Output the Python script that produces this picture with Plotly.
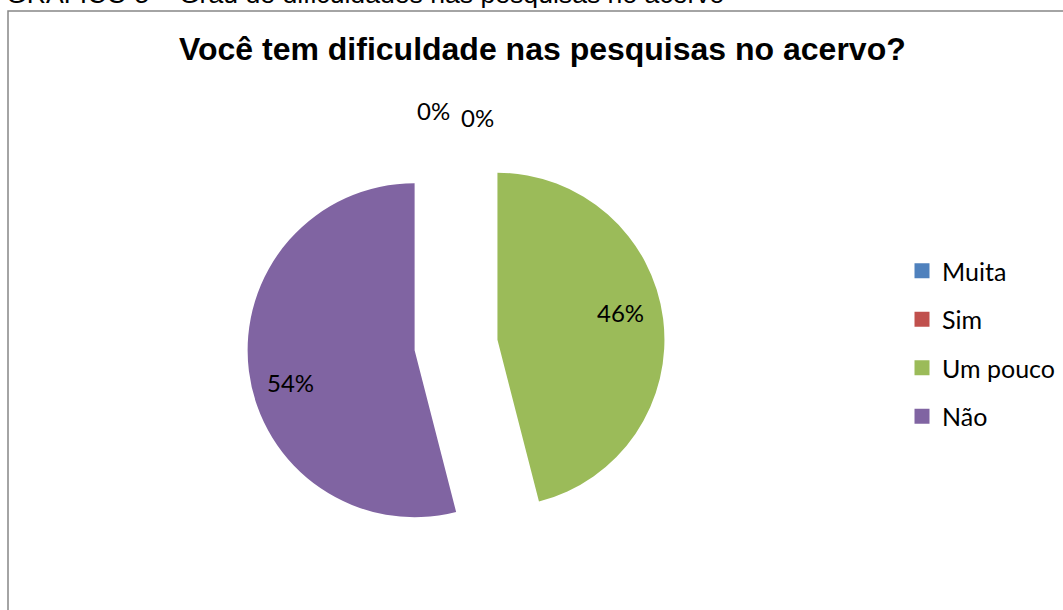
import plotly.graph_objects as go

# Survey answers: "Você tem dificuldade nas pesquisas no acervo?"
categories = ["Muita", "Sim", "Um pouco", "Não"]
counts = [0, 0, 46, 54]
colors = ["#4F81BD", "#C0504D", "#9BBB59", "#8064A2"]

caption = "GRÁFICO 5 – Grau de dificuldades nas pesquisas no acervo"
title = "Você tem dificuldade nas pesquisas no acervo?"

W, H = 1063, 610
LABEL_FONT = "Lato, 'Noto Sans', sans-serif"
ARIAL = "'Liberation Sans', Arial, sans-serif"

# where each slice's percentage label sits (pixels from top-left)
label_pos = [(433, 111), (477, 117), (620, 313), (290, 382)]


def px(x):
    return x / W


def py(y):
    return 1 - y / H


total = sum(counts)
pcts = [round(v / total * 100) for v in counts]

fig = go.Figure()

# exploded pie, clockwise from 12 o'clock
fig.add_trace(go.Pie(
    labels=categories,
    values=counts,
    sort=False,
    direction="clockwise",
    rotation=0,
    pull=[0.25] * len(counts),
    marker=dict(colors=colors, line=dict(width=0)),
    textinfo="none",
    domain=dict(x=[0.2326, 0.6254], y=[0.0922, 0.7766]),
    showlegend=False,
    hoverinfo="skip",
))

# legend entries (one group each so the spacing can be opened up)
for name, col in zip(categories, colors):
    fig.add_trace(go.Scatter(
        x=[None], y=[None], mode="markers", name=name,
        legendgroup=name,
        marker=dict(symbol="square", size=15, color=col),
        hoverinfo="skip",
    ))

# percentage labels of every slice
for p, (x0, y0) in zip(pcts, label_pos):
    fig.add_annotation(
        x=px(x0), y=py(y0), xref="paper", yref="paper",
        text=f"{p}%", showarrow=False,
        xanchor="center", yanchor="middle",
        font=dict(family=LABEL_FONT, size=24, color="#000000"),
    )

# caption above the frame (partly cut off at the top edge)
fig.add_annotation(
    x=px(4), y=py(11), xref="paper", yref="paper",
    text=caption, showarrow=False, xanchor="left", yanchor="bottom",
    font=dict(family=ARIAL, size=26.6, color="#000000"),
)

# chart title
fig.add_annotation(
    x=px(542), y=py(49), xref="paper", yref="paper",
    text=f"<b>{title}</b>", showarrow=False,
    xanchor="center", yanchor="middle",
    font=dict(family=ARIAL, size=32, color="#000000"),
)

# chart frame
fig.add_shape(
    type="rect", xref="paper", yref="paper",
    x0=px(8), x1=px(1100), y0=py(650), y1=py(11),
    line=dict(color="#868686", width=1.5), fillcolor="rgba(0,0,0,0)",
    layer="below",
)

fig.update_layout(
    width=W, height=H,
    margin=dict(l=0, r=0, t=0, b=0),
    paper_bgcolor="#FFFFFF",
    plot_bgcolor="#FFFFFF",
    xaxis=dict(visible=False),
    yaxis=dict(visible=False),
    showlegend=True,
    legend=dict(
        x=px(902), y=py(248), xanchor="left", yanchor="top",
        font=dict(family=LABEL_FONT, size=25, color="#000000"),
        tracegroupgap=13,
        bgcolor="rgba(0,0,0,0)",
        itemclick=False, itemdoubleclick=False,
    ),
)

fig.write_html("out.html")
